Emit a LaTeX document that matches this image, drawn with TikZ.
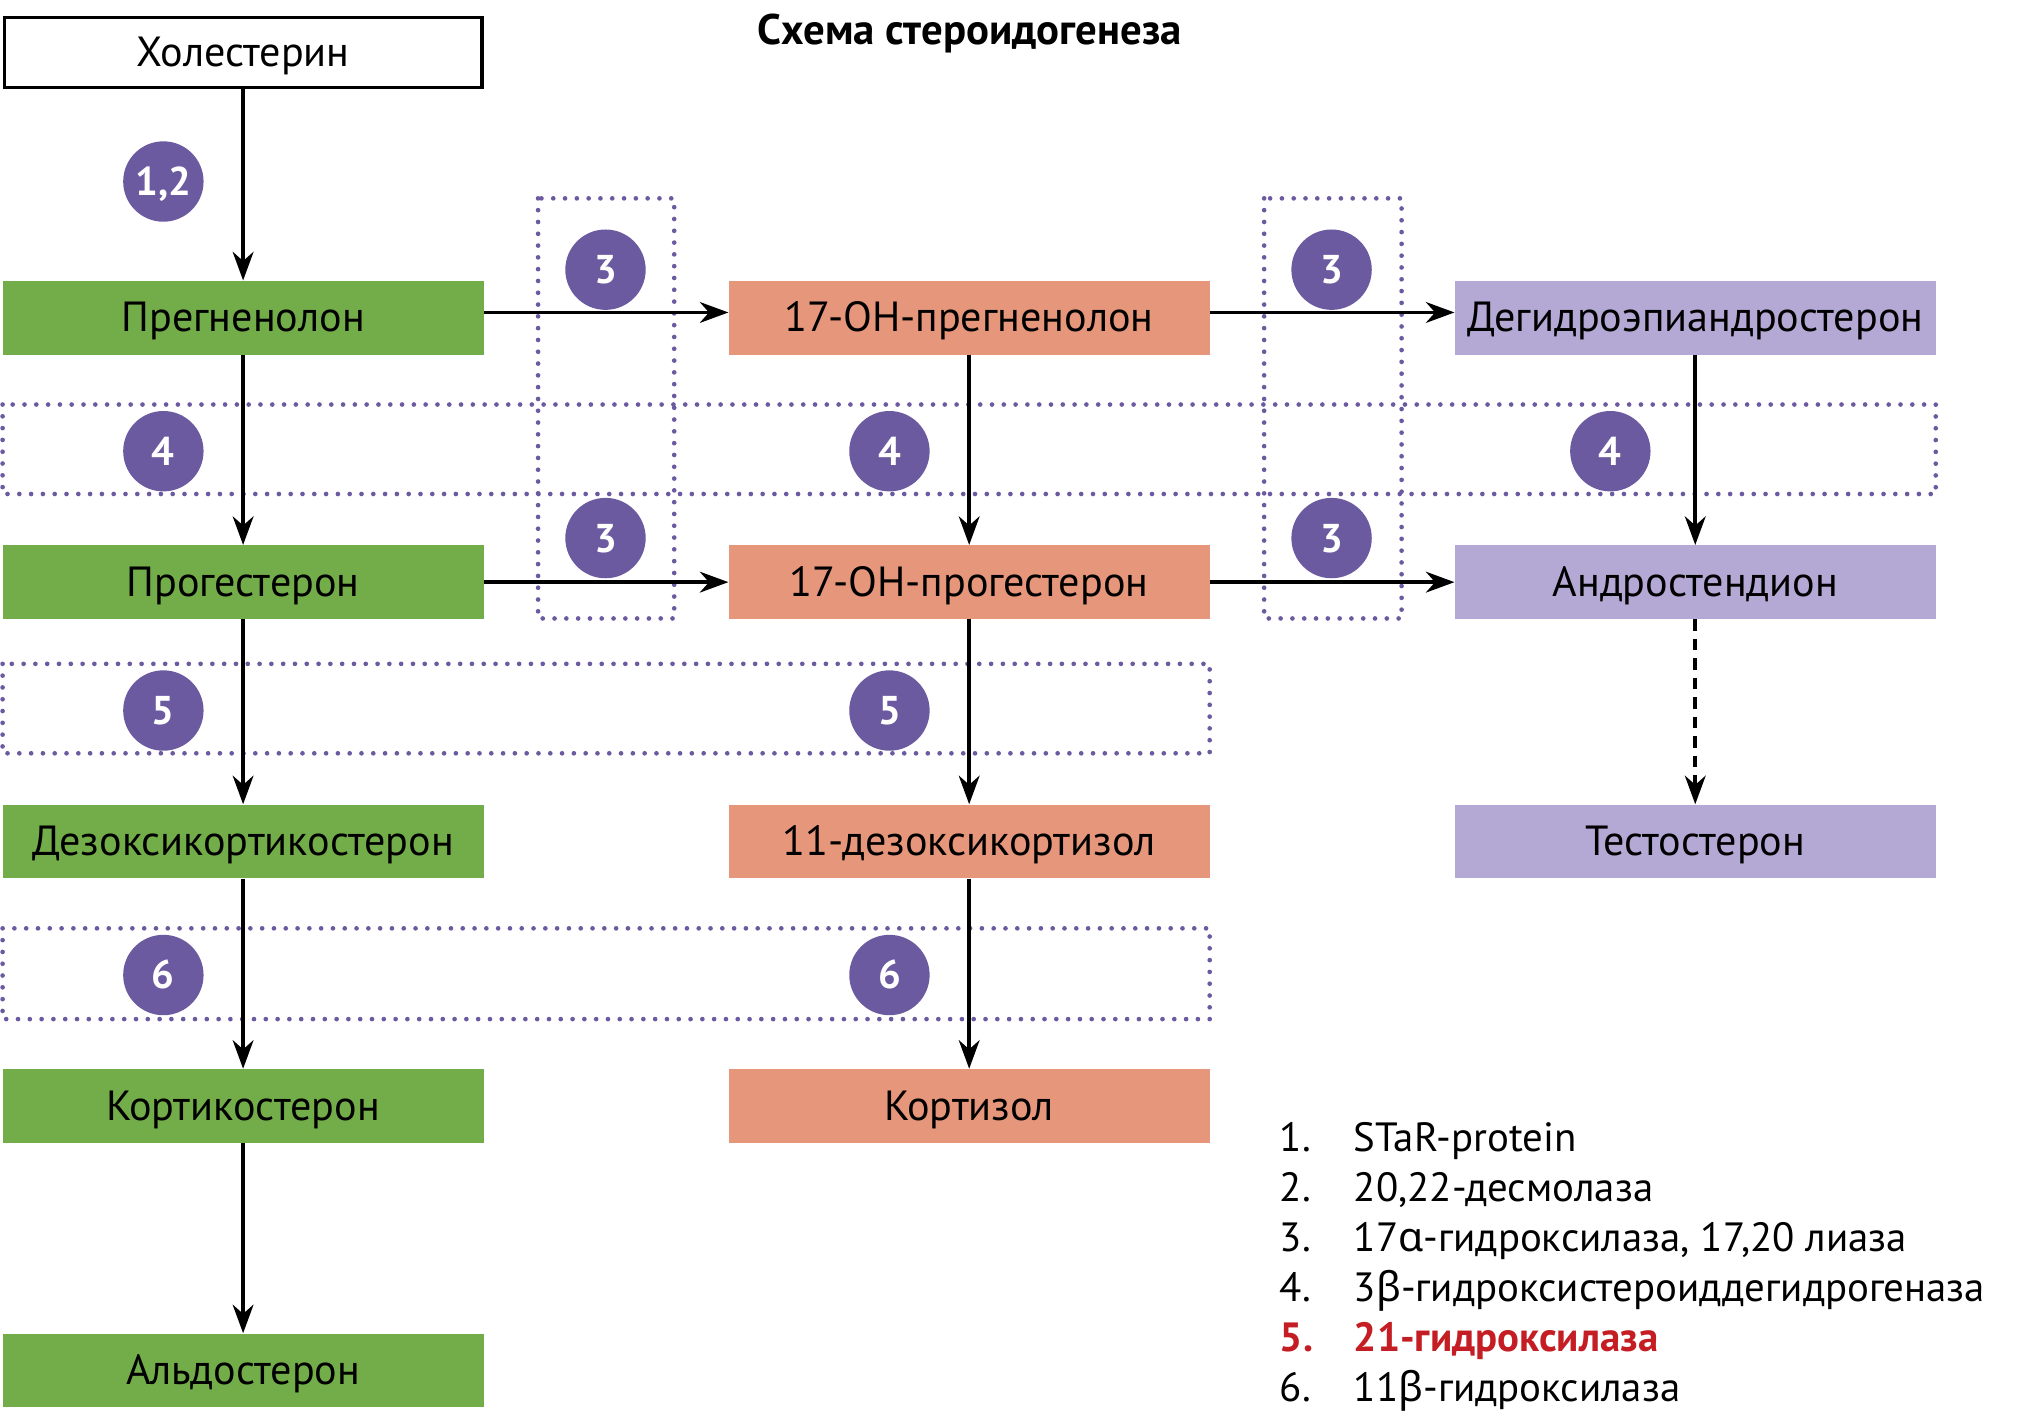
\documentclass[tikz,border=0pt]{standalone}
\usepackage{fontspec}
\setmainfont{PT Sans}
\newfontfamily\grk{Noto Sans}
\usetikzlibrary{arrows.meta}
\definecolor{grn}{HTML}{73AD4A}
\definecolor{sal}{HTML}{E6967B}
\definecolor{lav}{HTML}{B3A9D4}
\definecolor{pur}{HTML}{6C5AA1}
\definecolor{dots}{HTML}{6C5AA1}
\definecolor{redt}{HTML}{C41E24}
\begin{document}
\begin{tikzpicture}[x=1pt,y=-1pt,
  box/.style={minimum width=371pt, minimum height=57pt, inner sep=0pt, text height=22pt, text depth=0pt, font=\fontsize{32.5}{36}\selectfont},
  badge/.style={circle, fill=pur, minimum size=62pt, inner sep=0pt, text height=21.5pt, text depth=0pt, text=white, font=\fontsize{31}{34}\selectfont\bfseries},
  dotbox/.style={draw=dots, line width=3.6pt, line cap=round, dash pattern=on 0pt off 9.1pt},
  arr/.style={line width=3pt, -{Stealth[length=22pt,width=16pt,inset=7pt]}},
  leg/.style={anchor=base west, inner sep=0pt, font=\fontsize{31.5}{34}\selectfont}]
\useasboundingbox (0,0) rectangle (1568,1094);
\fill[white] (0,0) rectangle (1568,1094);
% dotted groups
\draw[dotbox] (415,153) rectangle (520,477);
\draw[dotbox] (975,153) rectangle (1081,477);
\draw[dotbox] (2,312) rectangle (1493,381);
\draw[dotbox] (2,512) rectangle (933,581);
\draw[dotbox] (2,716) rectangle (933,786);
% title
\node[anchor=base, inner sep=0pt, font=\fontsize{33}{36}\selectfont\bfseries] (title) at (748,34.7) {Схема стероидогенеза};
% boxes
\node[box, draw=black, line width=3pt, fill=white, minimum width=368pt, minimum height=54pt] (chol) at (187.5,40.5) {Холестерин};
\node[box, fill=grn] (preg) at (187.5,245) {Прегненолон};
\node[box, fill=grn] (prog) at (187.5,449) {Прогестерон};
\node[box, fill=grn] (doc) at (187.5,649) {Дезоксикортикостерон};
\node[box, fill=grn] (cort) at (187.5,853) {Кортикостерон};
\node[box, fill=grn] (ald) at (187.5,1057) {Альдостерон};
\node[box, fill=sal] (ohpreg) at (747.5,245) {17-ОН-прегненолон};
\node[box, fill=sal] (ohprog) at (747.5,449) {17-ОН-прогестерон};
\node[box, fill=sal] (deox) at (747.5,649) {11-дезоксикортизол};
\node[box, fill=sal] (cortisol) at (747.5,853) {Кортизол};
\node[box, fill=lav] (dhea) at (1307.5,245) {Дегидроэпиандростерон};
\node[box, fill=lav] (andro) at (1307.5,449) {Андростендион};
\node[box, fill=lav] (testo) at (1307.5,649) {Тестостерон};
% arrows
\draw[arr] (chol) -- (preg);
\draw[arr] (preg) -- (prog);
\draw[arr] (prog) -- (doc);
\draw[arr] (doc) -- (cort);
\draw[arr] (cort) -- (ald);
\draw[arr] (ohpreg) -- (ohprog);
\draw[arr] (ohprog) -- (deox);
\draw[arr] (deox) -- (cortisol);
\draw[arr] (dhea) -- (andro);
\draw[arr, dash pattern=on 9pt off 6pt] (andro) -- (testo);
\draw[arr] ([yshift=4pt]preg.east) -- ([yshift=4pt]ohpreg.west);
\draw[arr] ([yshift=4pt]ohpreg.east) -- ([yshift=4pt]dhea.west);
\draw[arr] (prog) -- (ohprog);
\draw[arr] (ohprog) -- (andro);
% badges
\node[badge] (b12) at (126,140) {1,2};
\node[badge] (b3a) at (467,208) {3};
\node[badge] (b3b) at (1027,208) {3};
\node[badge] (b4a) at (126,348) {4};
\node[badge] (b4b) at (686,348) {4};
\node[badge] (b4c) at (1242,348) {4};
\node[badge] (b3c) at (467,415) {3};
\node[badge] (b3d) at (1027,415) {3};
\node[badge] (b5a) at (126,548) {5};
\node[badge] (b5b) at (686,548) {5};
\node[badge] (b6a) at (126,752) {6};
\node[badge] (b6b) at (686,752) {6};
% legend
\node[leg] (n1) at (987,888) {1.};
\node[leg] (t1) at (1044,888) {STaR-protein};
\node[leg] (n2) at (987,926.6) {2.};
\node[leg] (t2) at (1044,926.6) {20,22-десмолаза};
\node[leg] (n3) at (987,965.2) {3.};
\node[leg] (t3) at (1044,965.2) {17{\grk α}-гидроксилаза, 17,20 лиаза};
\node[leg] (n4) at (987,1003.8) {4.};
\node[leg] (t4) at (1044,1003.8) {3{\grk β}-гидроксистероиддегидрогеназа};
\node[leg, text=redt, font=\fontsize{31.5}{34}\selectfont\bfseries] (n5) at (987,1042.4) {5.};
\node[leg, text=redt, font=\fontsize{31.5}{34}\selectfont\bfseries] (t5) at (1044,1042.4) {21-гидроксилаза};
\node[leg] (n6) at (987,1081) {6.};
\node[leg] (t6) at (1044,1081) {11{\grk β}-гидроксилаза};
\end{tikzpicture}
\end{document}
